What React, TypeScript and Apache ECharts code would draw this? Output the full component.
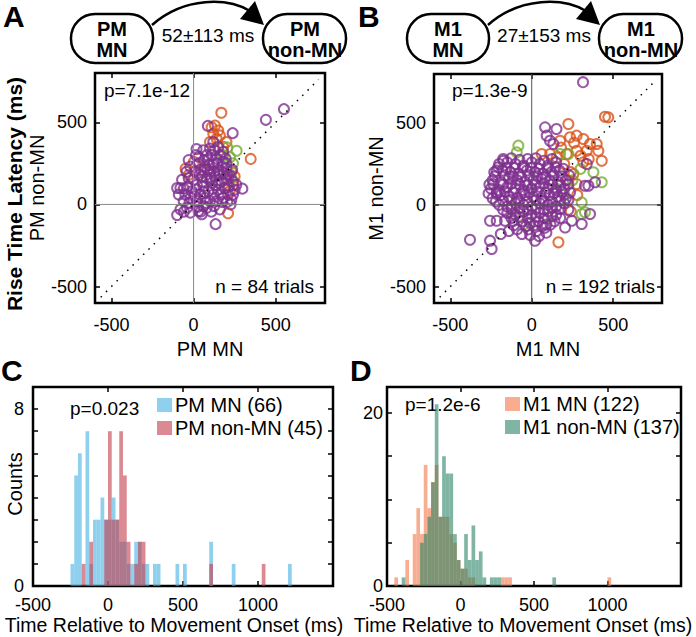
import React, { useEffect, useRef } from 'react';
import * as echarts from 'echarts';

const FONT = '"Liberation Sans", Arial, Helvetica, sans-serif';

// ---------- Panel A: PM MN vs PM non-MN (ms) ----------
const pmPurple: number[][] = [
  [550, 580], [440, 515], [87, 478], [238, 434], [18, 337], [297, 96], [-100, -64], [-59, -44],
  [134, -120], [43, -44], [-80, 100], [-60, 96], [-43, 199], [205, 16], [108, -44], [-20, 40],
  [160, -30], [240, 60], [260, 120], [200, 250], [60, 330], [30, 290], [20, 20], [40, 60],
  [60, 110], [80, 160], [100, 200], [120, 240], [140, 280], [160, 300], [180, 260], [200, 220],
  [220, 180], [240, 140], [70, 40], [90, 80], [110, 130], [130, 170], [150, 210], [170, 140],
  [190, 100], [210, 60], [230, 30], [50, 170], [70, 230], [90, 270], [110, 300], [130, 330],
  [0, 150], [10, 200], [30, 250], [-30, 160], [-10, 80], [20, 120], [150, 90], [180, 40],
  [120, 60], [100, 20], [60, -10], [140, 20], [200, 150], [160, 180], [80, 300], [100, 340],
  [-50, 60], [-80, -30], [-40, -20], [-20, -50], [30, -40], [80, -20], [180, 320], [150, 350],
  [50, -60], [120, 380], [-100, 100], [-90, 60],
  [-25, 10], [25, -15], [75, 10], [125, -10], [175, 15], [225, 0],
  [-35, 110], [15, 90], [65, 75], [115, 95], [165, 60], [215, 110], [250, 90],
  [-20, 230], [35, 180], [85, 210], [135, 120], [185, 190], [235, 210],
  [45, 210], [95, 240], [145, 250], [195, 280], [15, 300], [65, 270], [125, 200], [175, 230],
  [5, 50], [55, 140], [105, 160], [155, 130], [205, 180], [-60, 20], [-70, 150], [-30, 270],
];
const pmOrange: number[][] = [
  [169, 558], [110, 470], [130, 480], [150, 450], [120, 430], [160, 420], [140, 400], [348, 277],
  [210, -54], [-49, 217], [2, 259], [230, 200], [250, 170], [240, 120], [200, 380], [180, 350],
  [60, 210], [220, 80], [-30, 180], [100, 380],
];
const pmGreen: number[][] = [
  [205, 347], [262, 327], [222, 287], [180, 300], [240, 250], [150, 200], [100, 150], [190, 100],
  [230, 160],
];

// ---------- Panel B: M1 MN vs M1 non-MN (ms) ----------
const m1Purple: number[][] = [
  [315, 750], [82, 474], [152, 464], [92, 423], [112, 392], [133, 372], [-379, -213], [-256, -219],
  [-246, -270], [-256, -97], [-215, -97], [-164, -97], [-113, -97], [-90, -150], [-140, -160],
  [-190, -178], [-60, -178], [20, -219], [205, -138], [246, -97], [307, -117], [358, -56],
  [348, 117], [389, 138], [327, 117], [338, 250], [-215, 209], [-235, 127], [-215, 66], [-174, 270],
  [-200, 250], [-150, 260], [-100, 250], [-50, 240], [0, 260], [50, 250], [100, 240], [150, 260],
  [-230, 200], [-180, 210], [-130, 200], [-80, 190], [-30, 210], [20, 200], [70, 190], [120, 200], [170, 210],
  [-240, 150], [-190, 140], [-140, 160], [-90, 150], [-40, 140], [10, 150], [60, 160], [110, 150], [160, 140], [210, 150],
  [-250, 100], [-200, 90], [-150, 110], [-100, 100], [-50, 90], [0, 100], [50, 110], [100, 100], [150, 90], [200, 100],
  [-240, 40], [-190, 60], [-140, 50], [-90, 40], [-40, 60], [10, 50], [60, 40], [110, 60], [160, 50], [210, 40],
  [-200, 0], [-150, -10], [-100, 10], [-50, 0], [0, -10], [50, 10], [100, 0], [150, -10], [200, 10],
  [-150, -50], [-100, -60], [-50, -40], [0, -60], [50, -50], [100, -40], [150, -60],
  [-60, -100], [-10, -110], [40, -100], [90, -120], [140, -100], [-20, -150], [30, -160], [80, -140],
  [-175, 280], [-125, 285], [-75, 275], [-25, 280], [25, 285], [75, 270], [125, 280],
  [-205, 230], [-155, 225], [-105, 225], [-55, 230], [-5, 225], [45, 220], [95, 225], [145, 230], [195, 220],
  [-225, 175], [-165, 180], [-115, 175], [-65, 170], [-15, 180], [35, 175], [85, 170], [135, 180], [185, 175], [230, 180],
  [-260, 125], [-175, 125], [-125, 130], [-75, 125], [-25, 120], [25, 125], [75, 130], [125, 125], [175, 120], [225, 125],
  [-265, 70], [-215, 75], [-165, 80], [-115, 75], [-65, 70], [-15, 75], [35, 80], [85, 75], [135, 70], [185, 80], [235, 75],
  [-220, 20], [-175, 25], [-125, 30], [-75, 25], [-25, 20], [25, 30], [75, 25], [125, 20], [175, 25], [225, 30],
  [-175, -30], [-125, -25], [-75, -20], [-25, -30], [25, -25], [75, -30], [125, -20], [175, -25], [225, -30],
  [-125, -80], [-75, -75], [-25, -80], [25, -75], [75, -80], [125, -70], [175, -80],
  [-110, -125], [-35, -130], [15, -125], [65, -130], [115, -120], [-10, -185], [45, -190], [90, -170],
];
const m1Orange: number[][] = [
  [450, 539], [470, 535], [225, 494], [174, 392], [235, 413], [276, 423], [317, 403], [358, 372],
  [399, 372], [409, 331], [338, 331], [276, 331], [215, 311], [153, 290], [113, 311], [61, 311],
  [430, 270], [317, 260], [164, -229], [256, 189], [276, 127], [200, 250], [240, 200], [300, 300],
  [350, 280], [180, 350], [260, 380], [220, 150], [280, 60], [240, -40],
];
const m1Green: number[][] = [
  [-82, 362], [-92, 321], [430, 138], [379, 199], [307, 15], [327, -45], [307, -56], [225, 311],
  [174, 311], [-123, -15], [-113, -56], [150, 100], [200, 60], [250, 150], [-50, -120], [100, -80],
  [300, 220],
];

const scatterTicks = [-500, 0, 500];

// ---------- Histograms (bin start, count), 25 ms bins ----------
const binWidth = 25;
const pmMnHist: number[][] = [
  [-250, 1], [-225, 5], [-200, 6], [-150, 7], [-125, 1], [-100, 3], [-75, 3], [-50, 4], [-25, 3],
  [0, 3], [25, 4], [50, 3], [75, 2], [100, 2], [125, 1], [150, 1], [175, 2], [200, 2], [225, 1],
  [250, 1], [300, 1], [325, 1], [450, 1], [500, 1], [675, 2], [825, 1], [1200, 1],
];
const pmNonMnHist: number[][] = [
  [-175, 1], [-125, 2], [-25, 3], [0, 7], [25, 3], [50, 3], [75, 7], [100, 5], [125, 2], [175, 1],
  [200, 2], [225, 2], [675, 1], [1025, 1],
];
const m1MnHist: number[][] = [
  [-450, 1], [-375, 3], [-325, 6], [-300, 9], [-275, 6], [-250, 14], [-225, 9], [-200, 12],
  [-175, 14], [-150, 8], [-125, 8], [-100, 8], [-75, 6], [-50, 5], [-25, 3], [0, 2], [25, 2],
  [50, 1], [75, 1], [275, 1], [300, 1], [325, 1], [1000, 1],
];
const m1NonMnHist: number[][] = [
  [-400, 1], [-275, 5], [-250, 6], [-225, 8], [-200, 12], [-175, 21], [-150, 8], [-125, 15],
  [-100, 13], [-75, 13], [-50, 6], [-25, 3], [0, 2], [25, 6], [50, 3], [75, 7], [100, 3],
  [125, 4], [150, 1], [200, 1], [225, 1], [250, 1], [625, 1],
];

const histXTicks = [-500, 0, 500, 1000, 1500];
const histXLabels = [-500, 0, 500, 1000];
const cYTicks = [0, 1, 2, 3, 4, 5, 6, 7, 8];
const cYLabels = [0, 8];
const dYTicks = [0, 5, 10, 15, 20];
const dYLabels = [0, 20];

const PURPLE = '#7E2F8E';
const ORANGE = '#D95319';
const GREEN = '#77AC30';
const BLUE_H = 'rgba(68,177,227,0.6)';
const PINK_H = 'rgba(195,60,75,0.6)';
const ORANGE_H = 'rgba(245,118,70,0.6)';
const GREEN_H = 'rgba(42,132,100,0.6)';

function axis(o: any) {
  return {
    type: 'value',
    gridIndex: o.grid,
    min: o.min,
    max: o.max,
    position: o.position,
    splitLine: { show: false },
    axisLine: { show: false, onZero: false },
    axisTick: {
      show: true,
      inside: true,
      length: 5,
      lineStyle: { color: '#000', width: 1.5 },
      customValues: o.ticks,
    },
    axisLabel: {
      show: !o.mirror,
      customValues: o.labels,
      formatter: (v: number) => String(v),
      color: '#000',
      fontSize: 18,
      fontFamily: FONT,
      margin: o.margin ?? 8,
    },
    name: o.name,
    nameLocation: 'middle',
    nameGap: o.nameGap,
    nameTextStyle: { color: '#000', fontSize: 20, fontFamily: FONT },
  };
}

function scat(name: string, data: number[][], color: string, i: number) {
  return {
    type: 'scatter',
    name,
    xAxisIndex: i,
    yAxisIndex: i,
    data,
    symbol: 'circle',
    symbolSize: 10,
    itemStyle: { color: 'rgba(0,0,0,0)', borderColor: color, borderWidth: 2 },
    silent: true,
  };
}

function line(data: number[][], i: number, color: string, type: any, width: number) {
  return {
    type: 'line',
    xAxisIndex: i,
    yAxisIndex: i,
    data,
    symbol: 'none',
    silent: true,
    lineStyle: { color, width, type },
  };
}

function hist(name: string, data: number[][], color: string, i: number) {
  return {
    type: 'custom',
    name,
    xAxisIndex: i,
    yAxisIndex: i,
    data: data.map(([s, c]) => [s, s + binWidth, c]),
    encode: { x: [0, 1], y: 2 },
    itemStyle: { color },
    silent: true,
    renderItem: (_p: any, api: any) => {
      const p0 = api.coord([api.value(0), api.value(2)]);
      const p1 = api.coord([api.value(1), 0]);
      return {
        type: 'rect',
        shape: { x: p0[0], y: p0[1], width: p1[0] - p0[0], height: p1[1] - p0[1] },
        style: { fill: color },
      };
    },
  };
}

function txt(text: string, x: number, y: number, extra: any = {}, rotation = 0) {
  return {
    type: 'text',
    x,
    y,
    rotation,
    silent: true,
    style: {
      text,
      fill: '#000',
      fontSize: 19,
      fontFamily: FONT,
      align: 'left',
      verticalAlign: 'middle',
      ...extra,
    },
  };
}

function swatch(x: number, y: number, color: string) {
  return { type: 'rect', silent: true, shape: { x, y, width: 15, height: 14 }, style: { fill: color } };
}

function diagram(dx: number, l1: string, l2: string, r1: string, r2: string, lat: string) {
  const els: any[] = [];
  els.push({
    type: 'rect',
    shape: { x: 71 + dx, y: 14, width: 82, height: 49, r: 24 },
    style: { fill: '#fff', stroke: '#000', lineWidth: 2.5 },
  });
  els.push({
    type: 'rect',
    shape: { x: 263 + dx, y: 14, width: 83, height: 49, r: 24 },
    style: { fill: '#fff', stroke: '#000', lineWidth: 2.5 },
  });
  els.push(txt(l1, 112 + dx, 29, { align: 'center', fontWeight: 'bold', fontSize: 20 }));
  els.push(txt(l2, 112 + dx, 50, { align: 'center', fontWeight: 'bold', fontSize: 20 }));
  els.push(txt(r1, 305 + dx, 29, { align: 'center', fontWeight: 'bold', fontSize: 20 }));
  els.push(txt(r2, 305 + dx, 50, { align: 'center', fontWeight: 'bold', fontSize: 20 }));
  els.push(txt(lat, 208 + dx, 35, { align: 'center', fontSize: 19 }));
  els.push({
    type: 'bezierCurve',
    shape: { x1: 152 + dx, y1: 25, cpx1: 185 + dx, cpy1: -4, cpx2: 228 + dx, cpy2: -2, x2: 250 + dx, y2: 11 },
    style: { stroke: '#000', lineWidth: 2.5, fill: 'none' },
  });
  els.push({
    type: 'polygon',
    shape: { points: [[264 + dx, 25], [240 + dx, 19], [255 + dx, 1]] },
    style: { fill: '#000' },
  });
  return els;
}

export default function App() {
  const ref = useRef<HTMLDivElement>(null);
  useEffect(() => {
    if (!ref.current) return;
    const chart = echarts.init(ref.current, null, { renderer: 'svg' });
    const gridStyle = {
      show: true,
      borderColor: '#000',
      borderWidth: 2.5,
      backgroundColor: 'rgba(0,0,0,0)',
      containLabel: false,
      outerBoundsMode: 'none',
    };
    const option: any = {
      animation: false,
      backgroundColor: '#fff',
      grid: [
        { left: 95, top: 73, width: 230, height: 230, ...gridStyle },
        { left: 434, top: 74, width: 228, height: 229, ...gridStyle },
        { left: 33, top: 387, width: 300, height: 199, ...gridStyle },
        { left: 387, top: 387, width: 294, height: 199, ...gridStyle },
      ],
      xAxis: [
        axis({ grid: 0, min: -600, max: 800, position: 'bottom', ticks: scatterTicks, labels: scatterTicks, name: 'PM MN', nameGap: 36, margin: 13 }),
        axis({ grid: 1, min: -600, max: 800, position: 'bottom', ticks: scatterTicks, labels: scatterTicks, name: 'M1 MN', nameGap: 36, margin: 13 }),
        axis({ grid: 2, min: -500, max: 1500, position: 'bottom', ticks: histXTicks, labels: histXLabels, margin: 10 }),
        axis({ grid: 3, min: -500, max: 1500, position: 'bottom', ticks: histXTicks, labels: histXLabels, margin: 10 }),
        axis({ grid: 0, min: -600, max: 800, position: 'top', ticks: scatterTicks, mirror: true }),
        axis({ grid: 1, min: -600, max: 800, position: 'top', ticks: scatterTicks, mirror: true }),
        axis({ grid: 2, min: -500, max: 1500, position: 'top', ticks: histXTicks, mirror: true }),
        axis({ grid: 3, min: -500, max: 1500, position: 'top', ticks: histXTicks, mirror: true }),
      ],
      yAxis: [
        axis({ grid: 0, min: -600, max: 800, position: 'left', ticks: scatterTicks, labels: scatterTicks, name: 'PM non-MN', nameGap: 48, margin: 8 }),
        axis({ grid: 1, min: -600, max: 800, position: 'left', ticks: scatterTicks, labels: scatterTicks, name: 'M1 non-MN', nameGap: 48, margin: 8 }),
        axis({ grid: 2, min: 0, max: 9, position: 'left', ticks: cYTicks, labels: cYLabels, margin: 9 }),
        axis({ grid: 3, min: 0, max: 23, position: 'left', ticks: dYTicks, labels: dYLabels, margin: 4 }),
        axis({ grid: 0, min: -600, max: 800, position: 'right', ticks: scatterTicks, mirror: true }),
        axis({ grid: 1, min: -600, max: 800, position: 'right', ticks: scatterTicks, mirror: true }),
        axis({ grid: 2, min: 0, max: 9, position: 'right', ticks: cYTicks, mirror: true }),
        axis({ grid: 3, min: 0, max: 23, position: 'right', ticks: dYTicks, mirror: true }),
      ],
      series: [
        line([[0, -600], [0, 800]], 0, '#8a8a8a', 'solid', 1),
        line([[-600, 0], [800, 0]], 0, '#8a8a8a', 'solid', 1),
        line([[0, -600], [0, 800]], 1, '#555', 'solid', 1),
        line([[-600, 0], [800, 0]], 1, '#555', 'solid', 1),
        scat('PM orange', pmOrange, ORANGE, 0),
        scat('PM green', pmGreen, GREEN, 0),
        scat('PM purple', pmPurple, PURPLE, 0),
        scat('M1 orange', m1Orange, ORANGE, 1),
        scat('M1 green', m1Green, GREEN, 1),
        scat('M1 purple', m1Purple, PURPLE, 1),
        line([[-565, -565], [760, 760]], 0, '#000', [1.5, 6], 1.5),
        line([[-565, -565], [760, 760]], 1, '#000', [1.5, 6], 1.5),
        hist('PM MN (66)', pmMnHist, BLUE_H, 2),
        hist('PM non-MN (45)', pmNonMnHist, PINK_H, 2),
        hist('M1 MN (122)', m1MnHist, ORANGE_H, 3),
        hist('M1 non-MN (137)', m1NonMnHist, GREEN_H, 3),
      ],
      graphic: [
        ...diagram(0, 'PM', 'MN', 'PM', 'non-MN', '52±113 ms'),
        ...diagram(336, 'M1', 'MN', 'M1', 'non-MN', '27±153 ms'),
        txt('A', 3, 16, { fontSize: 30, fontWeight: 'bold' }),
        txt('B', 358, 16, { fontSize: 30, fontWeight: 'bold' }),
        txt('C', 1, 370, { fontSize: 30, fontWeight: 'bold' }),
        txt('D', 350, 370, { fontSize: 30, fontWeight: 'bold' }),
        txt('Rise Time Latency (ms)', 14, 194, { align: 'center', fontWeight: 'bold', fontSize: 21 }, Math.PI / 2),
        txt('Counts', 15, 484, { align: 'center', fontSize: 20 }, Math.PI / 2),
        txt('p=7.1e-12', 104, 90),
        txt('n = 84 trials', 314, 286, { align: 'right' }),
        txt('p=1.3e-9', 452, 90),
        txt('n = 192 trials', 655, 286, { align: 'right' }),
        txt('p=0.023', 70, 408),
        txt('p=1.2e-6', 405, 404),
        swatch(157, 398, BLUE_H),
        swatch(157, 421, PINK_H),
        txt('PM MN (66)', 175, 405, { fontSize: 20 }),
        txt('PM non-MN (45)', 175, 428, { fontSize: 20 }),
        swatch(505, 397, ORANGE_H),
        swatch(505, 420, GREEN_H),
        txt('M1 MN (122)', 523, 404, { fontSize: 20 }),
        txt('M1 non-MN (137)', 523, 427, { fontSize: 20 }),
        txt('Time Relative to Movement Onset (ms)', 174, 625, { align: 'center', fontSize: 19.5 }),
        txt('Time Relative to Movement Onset (ms)', 523, 625, { align: 'center', fontSize: 19.5 }),
      ],
    };
    chart.setOption(option);
    return () => chart.dispose();
  }, []);
  return (
    <div
      ref={ref}
      style={{ position: 'absolute', left: 0, top: 0, width: 696, height: 637, background: '#fff' }}
    />
  );
}
